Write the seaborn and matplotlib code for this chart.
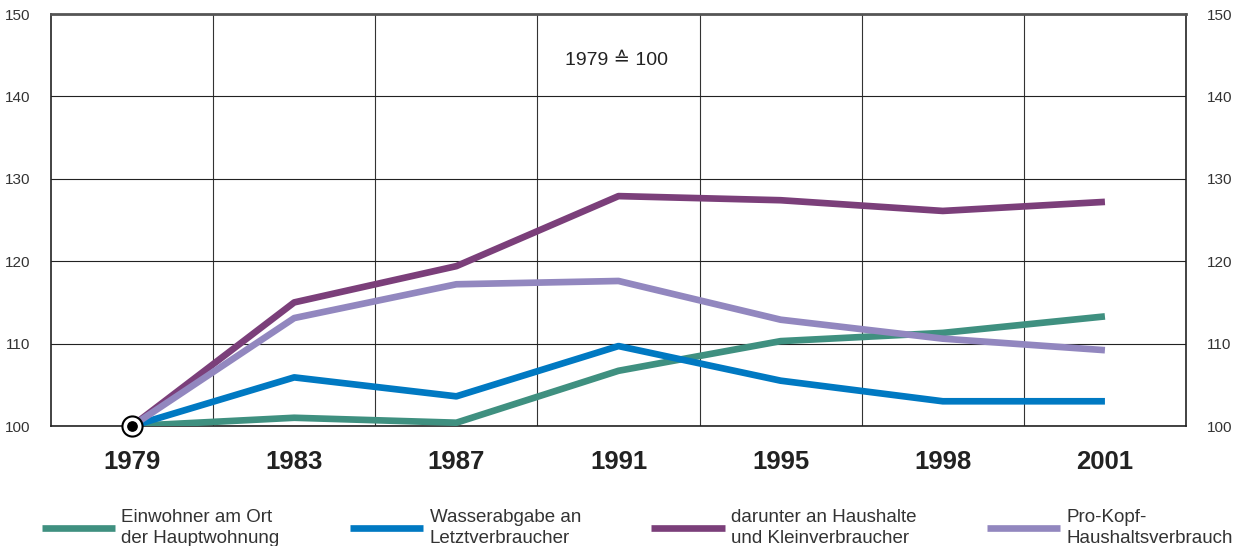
import matplotlib
matplotlib.use("Agg")
import matplotlib.pyplot as plt
import seaborn as sns
import pandas as pd

# Daten (1979 = 100)
jahre = ["1979", "1983", "1987", "1991", "1995", "1998", "2001"]
einwohner = [100, 101.0, 100.4, 106.7, 110.3, 111.3, 113.3]
wasserabgabe = [100, 105.9, 103.6, 109.7, 105.5, 103.0, 103.0]
haushalte = [100, 115.0, 119.4, 127.9, 127.4, 126.1, 127.2]
pro_kopf = [100, 113.1, 117.2, 117.6, 112.9, 110.6, 109.2]

reihen = ["Einwohner am Ort\nder Hauptwohnung",
          "Wasserabgabe an\nLetztverbraucher",
          "darunter an Haushalte\nund Kleinverbraucher",
          "Pro-Kopf-\nHaushaltsverbrauch"]
farben = ["#3f9080", "#0079c2", "#7b3f7a", "#9287bf"]

rows = []
for name, werte in zip(reihen, [einwohner, wasserabgabe, haushalte, pro_kopf]):
    for i, (j, w) in enumerate(zip(jahre, werte)):
        rows.append({"pos": i, "jahr": j, "wert": w, "reihe": name})
df = pd.DataFrame(rows)

sns.set_style("white")
plt.rcParams['font.family'] = ['Liberation Sans', 'DejaVu Sans']

fig = plt.figure(figsize=(12.45, 5.46), dpi=100)
ax = fig.add_axes([51 / 1245, 1 - 426 / 546, 1135 / 1245, 412 / 546])

sns.lineplot(data=df, x="pos", y="wert", hue="reihe", palette=farben,
             linewidth=4.8, legend=False, ax=ax, zorder=3)
for ln in ax.lines:
    ln.set_solid_capstyle("butt")

# Basispunkt 1979
ax.scatter([0], [einwohner[0]], s=210, facecolor="white", edgecolor="black",
           linewidth=1.5, zorder=5, clip_on=False)
ax.scatter([0], [einwohner[0]], s=45, color="black", zorder=6, clip_on=False)

ax.set_xlim(-0.5, len(jahre) - 0.5)
ax.set_ylim(100, 150)
ax.set_xticks(range(len(jahre)))
ax.set_xticklabels(jahre, fontsize=18.5, fontweight="bold", color="#222222")
ax.set_xticks([i + 0.5 for i in range(len(jahre) - 1)], minor=True)
ax.set_yticks(range(100, 151, 10))
ax.tick_params(axis="x", which="both", length=0, pad=17)
ax.tick_params(axis="y", length=0, labelsize=11, labelcolor="#333333", pad=15,
               right=True, labelright=True)
ax.grid(axis="x", which="minor", color="#333333", linewidth=0.8)
ax.grid(axis="y", which="major", color="#222222", linewidth=0.8)
ax.set_xlabel("")
ax.set_ylabel("")
for s in ["left", "bottom", "right"]:
    ax.spines[s].set_color("#222222")
    ax.spines[s].set_linewidth(1.2)
ax.spines["top"].set_color("#555555")
ax.spines["top"].set_linewidth(2)

ax.text(0.5 * (len(jahre) - 1) - 0.01, 144.3, "1979 ≙ 100", ha="center", va="center",
        fontsize=14, color="#222222", family=['Liberation Sans', 'DejaVu Sans'])

leg = fig.legend(handles=ax.lines[:4], labels=reihen, loc="lower center",
                 bbox_to_anchor=(0.512, -0.032), ncol=4, frameon=False, fontsize=13.5,
                 handlelength=3.9, handletextpad=0.35, columnspacing=3.75,
                 labelcolor="#333333")
for t in leg.get_texts():
    t.set_linespacing(1.3)

fig.savefig("out.png", dpi=100)
